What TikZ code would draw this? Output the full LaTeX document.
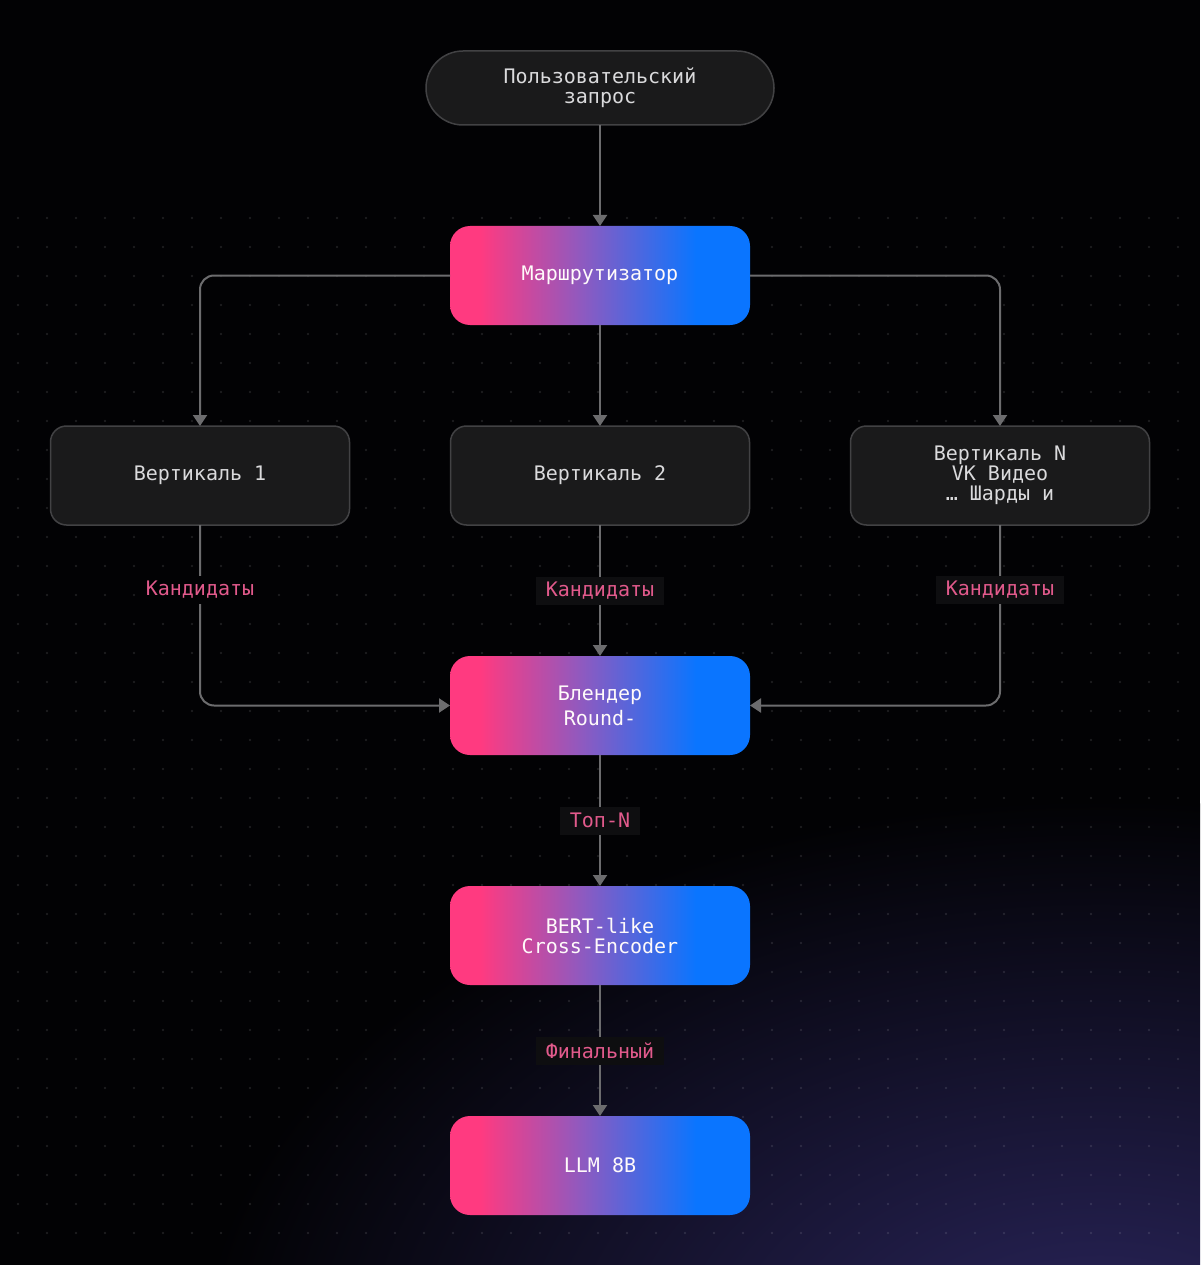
\documentclass[tikz,border=0pt]{standalone}
\usepackage{fontspec}
\usepackage{xcolor}
\usepackage{tikz}
\usetikzlibrary{arrows.meta,positioning}
\newfontfamily\diagmono{DejaVu Sans Mono}
\definecolor{bgblack}{RGB}{2,2,4}
\definecolor{bgglow}{RGB}{42,37,92}
\definecolor{boxfill}{RGB}{26,26,27}
\definecolor{boxline}{RGB}{66,66,68}
\definecolor{linkgray}{RGB}{108,108,110}
\definecolor{gpink}{RGB}{255,58,128}
\definecolor{gpurple}{RGB}{142,90,192}
\definecolor{gblue}{RGB}{10,117,255}
\definecolor{tagpink}{RGB}{226,90,140}
\definecolor{tagfill}{RGB}{14,14,16}
\definecolor{lighttext}{RGB}{218,218,220}
\pgfdeclarehorizontalshading{pinkblue}{100bp}{color(0bp)=(gpink); color(30bp)=(gpink); color(47bp)=(gpurple); color(66bp)=(gblue); color(100bp)=(gblue)}
\tikzset{
  pill/.style={rectangle, rounded corners=37pt, draw=boxline, line width=1.5pt, fill=boxfill, align=center, minimum width=348pt, minimum height=74pt, outer sep=0pt, text=lighttext, font=\diagmono\fontsize{20}{20}\selectfont},
  darkbox/.style={rectangle, rounded corners=16pt, draw=boxline, line width=1.5pt, fill=boxfill, align=center, minimum width=299pt, minimum height=99pt, outer sep=0pt, text=lighttext, font=\diagmono\fontsize{20}{20}\selectfont},
  gradbox/.style={rectangle, rounded corners=20pt, shading=pinkblue, align=center, minimum width=300pt, minimum height=99pt, outer sep=0pt, text=white!92!pink, font=\diagmono\fontsize{20}{20}\selectfont},
  tag/.style={rectangle, sharp corners, fill=tagfill, text=tagpink, inner xsep=10pt, minimum height=28pt, font=\diagmono\fontsize{20}{20}\selectfont},
  link/.style={-{Triangle[length=11pt,width=14pt]}, line width=2pt, draw=linkgray, rounded corners=14pt}
}
\begin{document}
\begin{tikzpicture}[x=1pt, y=-1pt, node distance=101pt]
\useasboundingbox (0,0) rectangle (1200,1265);
\fill[bgblack] (0,0) rectangle (1200,1265);
\begin{scope}
\clip (0,0) rectangle (1200,1265);
\shade[inner color=bgglow, outer color=bgblack] (1100,1360) ellipse (900pt and 560pt);
\foreach \i in {0,...,40}
  \foreach \j in {0,...,35}
    \fill[white, opacity=0.11] (18+\i*29, 218+\j*29) circle (1.4pt);
\end{scope}
\node[pill] (query) at (600,88) {Пользовательский\\запрос};
\node[gradbox, below=of query] (router) {Маршрутизатор};
\node[darkbox, below=of router] (vert2) {Вертикаль  2};
\node[darkbox, left=of vert2] (vert1) {Вертикаль  1};
\node[darkbox, right=of vert2] (vertN) {Вертикаль  N\\VK  Видео\\…  Шарды  и};
\node[gradbox, below=131pt of vert2, font=\diagmono\fontsize{20}{25}\selectfont] (blender) {Блендер\\Round-};
\node[gradbox, below=131pt of blender] (bert) {BERT-like\\Cross-Encoder};
\node[gradbox, below=131pt of bert] (llm) {LLM  8B};
\draw[link] (query) -- (router);
\draw[link] (router.west) -| (vert1.north);
\draw[link] (router) -- (vert2);
\draw[link] (router.east) -| (vertN.north);
\draw[link] (vert1) |- node[tag, pos=0.18, fill=bgblack] {Кандидаты} (blender.west);
\draw[link] (vert2) -- node[tag] {Кандидаты} (blender);
\draw[link] (vertN) |- node[tag, pos=0.18] {Кандидаты} (blender.east);
\draw[link] (blender) -- node[tag] {Топ-N} (bert);
\draw[link] (bert) -- node[tag] {Финальный} (llm);
\end{tikzpicture}
\end{document}
